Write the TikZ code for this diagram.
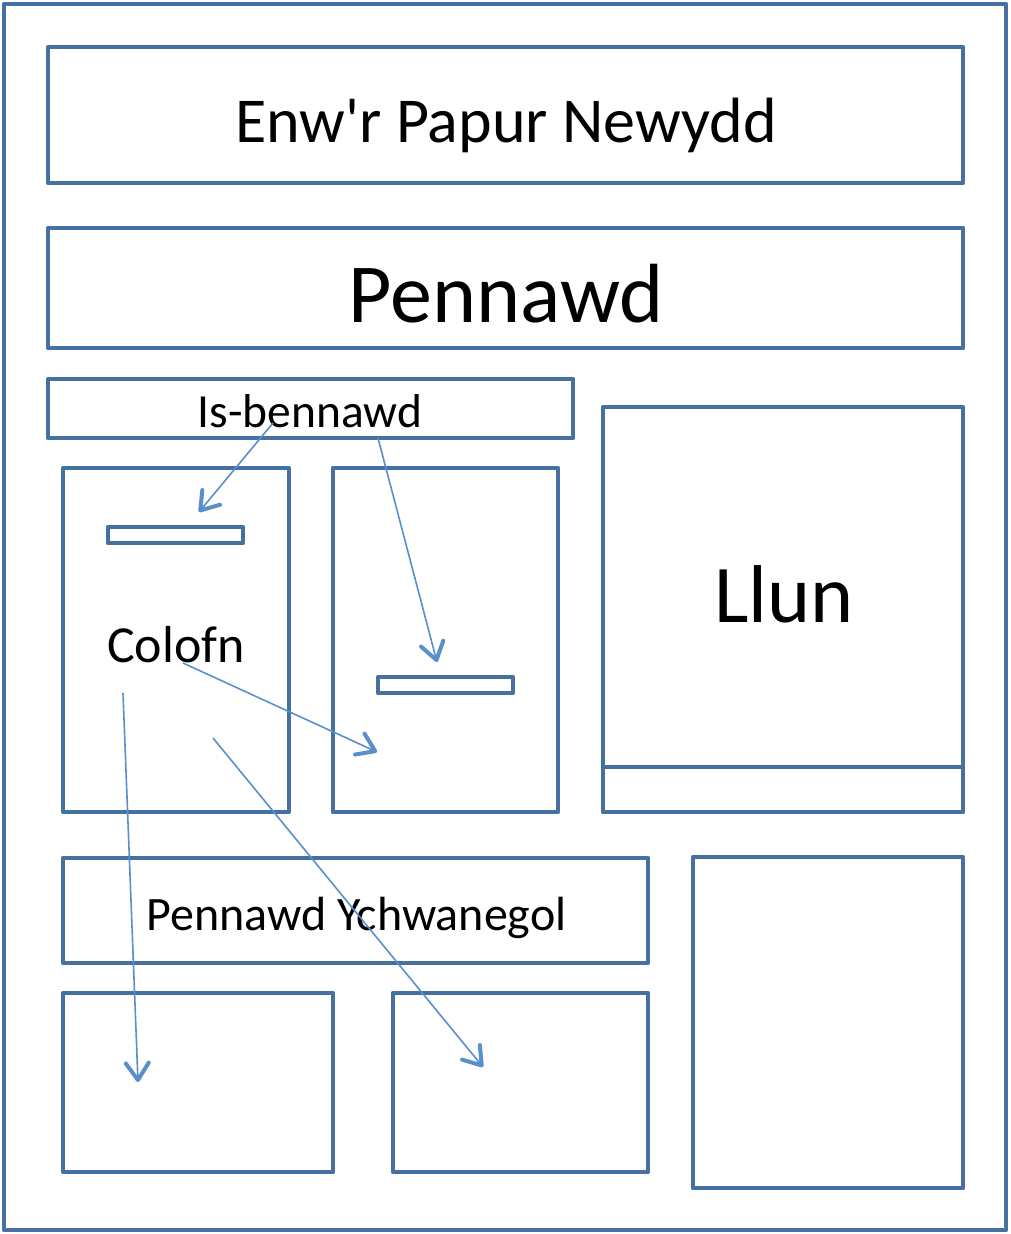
\documentclass[tikz,border=0pt]{standalone}
\usepackage{fontspec}
\setmainfont{Carlito}
\newfontfamily\carlplain{Carlito}
\usetikzlibrary{arrows.meta}
\definecolor{boxblue}{RGB}{70,112,160}
\definecolor{arrowblue}{RGB}{88,143,204}
\begin{document}
\begin{tikzpicture}[x=1pt,y=-1pt,
  frame/.style={draw=boxblue,line width=4.8pt,line join=round,inner sep=0pt,outer sep=0pt},
  bx/.style 2 args={frame,minimum width=#1,minimum height=#2},
  lbl/.style={anchor=base,inner sep=0pt,outer sep=0pt,text=black},
  conn/.style={draw=arrowblue,line width=1.6pt,-{Straight Barb[length=17pt,width=23pt,line width=4pt,round]}}]
\useasboundingbox (0,0) rectangle (1010,1234);
% boxes
\node[frame,line width=4.2pt,minimum width=1002pt,minimum height=1226pt] (page) at (505,617) {};
\node[bx={915pt}{136pt}] (title) at (505.5,115) {};
\node[bx={915pt}{120pt}] (head) at (505.5,288) {};
\node[bx={525pt}{59pt}] (sub) at (310.5,408.5) {};
\node[bx={226pt}{344pt}] (col1) at (176,640) {};
\node[bx={135pt}{16pt},line width=4.2pt] (bar1) at (175.5,535) {};
\node[bx={225pt}{344pt}] (col2) at (445.5,640) {};
\node[bx={135pt}{16pt},line width=4.2pt] (bar2) at (445.5,685) {};
\node[bx={360pt}{360pt}] (photo) at (783,587) {};
\node[bx={360pt}{45pt}] (caption) at (783,789.5) {};
\node[bx={585pt}{105pt}] (extra) at (355.5,910.5) {};
\node[bx={270pt}{179pt}] (bot1) at (198,1082.5) {};
\node[bx={255pt}{179pt}] (bot2) at (520.5,1082.5) {};
\node[bx={270pt}{331pt}] (side) at (828,1022.5) {};
% labels
\node[lbl,font=\carlplain\fontsize{64}{64}\selectfont] (tTitle) at (506,142) {Enw'r Papur Newydd};
\node[lbl,font=\fontsize{84}{84}\selectfont] (tHead) at (506,322) {Pennawd};
\node[lbl,font=\fontsize{47.5}{47.5}\selectfont] (tSub) at (310,427) {Is-bennawd};
\node[lbl,font=\fontsize{52}{52}\selectfont] (tCol) at (176,662) {Colofn};
\node[lbl,font=\fontsize{82}{82}\selectfont] (tPhoto) at (784,622) {Llun};
\node[lbl,font=\fontsize{48}{48}\selectfont] (tExtra) at (356.5,930) {Pennawd Ychwanegol};
% arrow ends
\coordinate (a1s) at (273,423); \coordinate (a1e) at (199,512);
\coordinate (a2s) at (378,438); \coordinate (a2e) at (437,662);
\coordinate (a3s) at (183,663); \coordinate (a3e) at (377,752);
\coordinate (a4s) at (123,693); \coordinate (a4e) at (138,1082);
\coordinate (a5s) at (213,738); \coordinate (a5e) at (483,1067);
\draw[conn] (a1s) -- (a1e);
\draw[conn] (a2s) -- (a2e);
\draw[conn] (a3s) -- (a3e);
\draw[conn] (a4s) -- (a4e);
\draw[conn] (a5s) -- (a5e);
\end{tikzpicture}
\end{document}
